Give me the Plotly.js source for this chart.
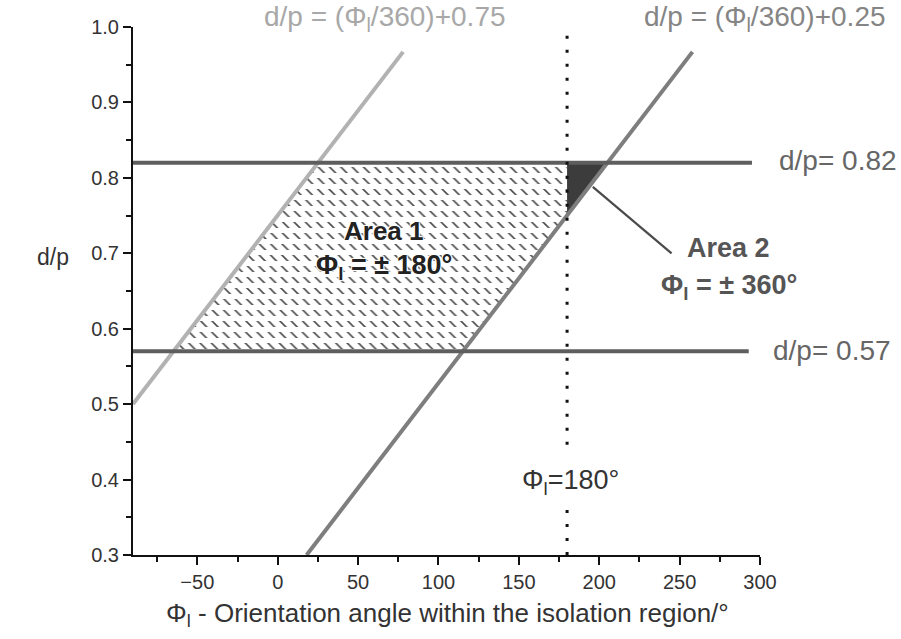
<!DOCTYPE html>
<html>
<head>
<meta charset="utf-8">
<script src="https://cdn.plot.ly/plotly-3.0.1.min.js"></script>
<style>html,body{margin:0;padding:0;background:#fff;}#chart{width:901px;height:639px;}</style>
</head>
<body>
<div id="chart"></div>
<script>
// Lines
var lightLineX = [-90, 78];
var lightLineY = [0.5, 0.967];
var darkLineX = [18, 258];
var darkLineY = [0.3, 0.967];
var upperX = [-90, 295];
var upperY = [0.82, 0.82];
var lowerX = [-90, 293];
var lowerY = [0.57, 0.57];
var dotUpperX = [180, 180];
var dotUpperY = [0.446, 0.992];
var dotLowerX = [180, 180];
var dotLowerY = [0.3, 0.374];
var area1X = [-64.8, 115.2, 180, 180, 25.2, -64.8];
var area1Y = [0.57, 0.57, 0.75, 0.82, 0.82, 0.57];
var area2X = [180, 205.2, 180, 180];
var area2Y = [0.82, 0.82, 0.75, 0.82];
var pointerX = [196, 245];
var pointerY = [0.788, 0.700];
var xTicks = [-50, 0, 50, 100, 150, 200, 250, 300];
var yTicks = [0.3, 0.4, 0.5, 0.6, 0.7, 0.8, 0.9, 1.0];
var yTickLabels = ['0.3', '0.4', '0.5', '0.6', '0.7', '0.8', '0.9', '1.0'];

var font = 'Liberation Sans, Arial, sans-serif';
var halo = '1px 1px 1px #fff, -1px -1px 1px #fff, 1px -1px 1px #fff, -1px 1px 1px #fff';

var traces = [
  {x: area1X, y: area1Y, mode: 'lines', fill: 'toself', line: {width: 0, color: 'rgba(0,0,0,0)'},
   fillcolor: 'rgba(255,255,255,0)',
   fillpattern: {shape: '\\', size: 8, solidity: 0.2, fgcolor: '#4a4a4a', bgcolor: 'rgba(255,255,255,0)'},
   hoverinfo: 'skip'},
  {x: area1X, y: area1Y, mode: 'lines', fill: 'toself', line: {width: 0, color: 'rgba(0,0,0,0)'},
   fillcolor: 'rgba(255,255,255,0)',
   fillpattern: {shape: '-', size: 11, solidity: 0.45, fgcolor: '#ffffff', bgcolor: 'rgba(255,255,255,0)'},
   hoverinfo: 'skip'},
  {x: area2X, y: area2Y, mode: 'lines', fill: 'toself', line: {width: 0, color: 'rgba(0,0,0,0)'},
   fillcolor: '#3c3c3c', hoverinfo: 'skip'},
  {x: lightLineX, y: lightLineY, mode: 'lines', line: {color: '#b2b2b2', width: 4}},
  {x: darkLineX, y: darkLineY, mode: 'lines', line: {color: '#7e7e7e', width: 4}},
  {x: upperX, y: upperY, mode: 'lines', line: {color: '#5e5e5e', width: 4}},
  {x: lowerX, y: lowerY, mode: 'lines', line: {color: '#5e5e5e', width: 4}},
  {x: dotUpperX, y: dotUpperY, mode: 'lines', line: {color: '#111', width: 3, dash: '3px,11px'}},
  {x: dotLowerX, y: dotLowerY, mode: 'lines', line: {color: '#111', width: 3, dash: '3px,11px'}},
  {x: pointerX, y: pointerY, mode: 'lines', line: {color: '#4a4a4a', width: 2.2}}
];

function ann(text, x, y, opts) {
  var a = {text: text, x: x, y: y, xref: 'paper', yref: 'paper', showarrow: false,
    xanchor: 'center', yanchor: 'middle', font: {family: font, size: 26, color: '#333'}};
  for (var k in opts) a[k] = opts[k];
  return a;
}

var annotations = [
  ann('d/p = (Φ<sub>l</sub>/360)+0.75', 0.402, 1.017, {font: {family: font, size: 28, color: '#a8a8a8'}}),
  ann('d/p = (Φ<sub>l</sub>/360)+0.25', 1.008, 1.017, {font: {family: font, size: 28, color: '#858585'}}),
  ann('d/p= 0.82', 1.027, 0.748, {xanchor: 'left', font: {family: font, size: 28, color: '#666'}}),
  ann('d/p= 0.57', 1.018, 0.388, {xanchor: 'left', font: {family: font, size: 28, color: '#666'}}),
  ann('<b>Area 1</b>', 0.400, 0.614, {font: {family: font, size: 26, color: '#222', shadow: halo}}),
  ann('<b>Φ<sub>l</sub> = ± 180°</b>', 0.400, 0.545, {font: {family: font, size: 27, color: '#222', shadow: halo}}),
  ann('<b>Area 2</b>', 0.950, 0.581, {font: {family: font, size: 27, color: '#555'}}),
  ann('<b>Φ<sub>l</sub> = ± 360°</b>', 0.950, 0.508, {font: {family: font, size: 27, color: '#555'}}),
  ann('Φ<sub>l</sub>=180°', 0.698, 0.138, {font: {family: font, size: 27, color: '#333'}}),
  ann('d/p', -0.128, 0.564, {font: {family: font, size: 23, color: '#333'}}),
  ann('Φ<sub>l</sub> - Orientation angle within the isolation region/°', 0.502, -0.112, {font: {family: font, size: 26, color: '#333'}})
];

var layout = {
  width: 901, height: 639,
  margin: {l: 133, r: 141, t: 27, b: 84},
  paper_bgcolor: '#fff', plot_bgcolor: '#fff',
  showlegend: false,
  font: {family: font, color: '#333'},
  xaxis: {range: [-90, 300], tickvals: xTicks, showgrid: false, zeroline: false,
    showline: true, linecolor: '#111', linewidth: 2, ticks: 'outside', ticklen: 8, tickwidth: 2, tickcolor: '#111',
    tickfont: {family: font, size: 20, color: '#333'},
    minor: {tickvals: [-75, -25, 25, 75, 125, 175, 225, 275], ticks: 'outside', ticklen: 5, tickwidth: 2, tickcolor: '#111', showgrid: false}},
  yaxis: {range: [0.3, 1.0], tickvals: yTicks, ticktext: yTickLabels, showgrid: false, zeroline: false,
    showline: true, linecolor: '#111', linewidth: 2, ticks: 'outside', ticklen: 8, tickwidth: 2, tickcolor: '#111',
    tickfont: {family: font, size: 20, color: '#333'},
    minor: {tickvals: [0.35, 0.45, 0.55, 0.65, 0.75, 0.85, 0.95], ticks: 'outside', ticklen: 5, tickwidth: 2, tickcolor: '#111', showgrid: false}},
  annotations: annotations
};

Plotly.newPlot('chart', traces, layout, {displayModeBar: false, staticPlot: true});
</script>
</body>
</html>
